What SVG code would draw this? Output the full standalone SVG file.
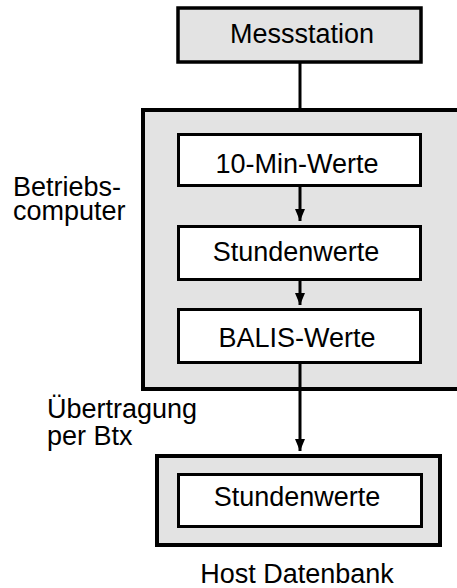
<svg xmlns="http://www.w3.org/2000/svg" width="457" height="588" viewBox="0 0 457 588">
<defs>
<style>
.t{font-family:"Liberation Sans",Arial,sans-serif;font-size:27px;fill:#000}
.m{text-anchor:middle}
.g{fill:#e3e3e3;stroke:#000;stroke-width:4}
.w{fill:#fff;stroke:#000;stroke-width:3}
.c{stroke:#000;stroke-width:3;fill:none}
</style>
<marker id="ah" markerWidth="12" markerHeight="10" refX="12" refY="5" orient="auto" markerUnits="userSpaceOnUse">
<path d="M0,0 L12,5 L0,10 Z" fill="#000"/>
</marker>
</defs>
<rect width="457" height="588" fill="#fff"/>
<g id="betriebscomputer">
<rect class="g" x="143" y="110" width="316" height="279"/>
<text class="t" x="13" y="196">Betriebs-</text>
<text class="t" x="13" y="220">computer</text>
</g>
<g id="messstation">
<rect class="g" x="178" y="8" width="243" height="54" style="stroke-width:3.5"/>
<text class="t m" x="302" y="43">Messstation</text>
</g>
<g id="min10">
<rect class="w" x="178.5" y="134.5" width="242" height="51"/>
<text class="t m" x="297" y="173">10-Min-Werte</text>
</g>
<g id="stunden">
<rect class="w" x="178.5" y="226.5" width="242" height="53"/>
<text class="t m" x="296" y="261">Stundenwerte</text>
</g>
<g id="balis">
<rect class="w" x="178.5" y="309.5" width="242" height="53"/>
<text class="t m" x="297" y="347">BALIS-Werte</text>
</g>
<g id="host">
<rect class="g" x="157" y="456" width="283" height="89"/>
<rect class="w" x="178.5" y="474.5" width="243" height="52"/>
<text class="t m" x="297" y="506">Stundenwerte</text>
<text class="t m" x="297" y="583">Host Datenbank</text>
</g>
<g id="connectors">
<line class="c" x1="300" y1="62" x2="300" y2="110"/>
<line class="c" x1="300" y1="186" x2="300" y2="221" marker-end="url(#ah)"/>
<line class="c" x1="300" y1="280" x2="300" y2="305" marker-end="url(#ah)"/>
<line class="c" x1="300" y1="363" x2="300" y2="389"/>
<line class="c" x1="300" y1="389" x2="300" y2="451" marker-end="url(#ah)"/>
<text class="t" x="47" y="418">Übertragung</text>
<text class="t" x="47" y="445">per Btx</text>
</g>
</svg>
